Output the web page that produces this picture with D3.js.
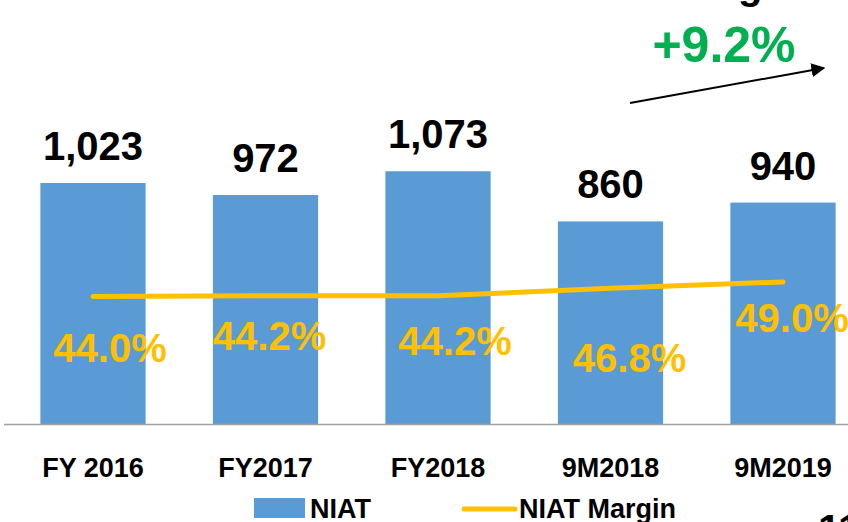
<!DOCTYPE html>
<html>
<head>
<meta charset="utf-8">
<script src="https://cdn.jsdelivr.net/npm/d3@7"></script>
<style>
  body { margin: 0; background: #fff; }
  svg { display: block; font-family: "Liberation Sans", Arial, sans-serif; }
</style>
</head>
<body>
<svg id="chart" width="848" height="522"></svg>
<script>
const periods = ['FY 2016', 'FY2017', 'FY2018', '9M2018', '9M2019'];
const niat = [1023, 972, 1073, 860, 940];
const margin = [44.0, 44.2, 44.2, 46.8, 49.0];
const growthText = '+9.2%';

// hand placed margin labels (offset from the line point), like the source slide
const marginLabelOffset = [[17, 66], [4, 54], [17, 59], [19, 84], [9, 50]];

const svg = d3.select('#chart');
const width = +svg.attr('width');
const baseY = 424;

const data = periods.map((p, i) => ({period: p, niat: niat[i], margin: margin[i]}));

const x = d3.scaleBand()
  .domain(periods)
  .range([6.75, 869.25])
  .paddingInner(0.39)
  .paddingOuter(0.195);

const y = d3.scaleLinear()
  .domain([0, 1800])
  .range([baseY, 0]);

const y2 = d3.scaleLinear()
  .domain([0, 100])
  .range([baseY, 134]);

const cx = d => x(d.period) + x.bandwidth() / 2;

// cut-off title at the very top
svg.append('text')
  .attr('x', 798)
  .attr('y', -1)
  .attr('text-anchor', 'end')
  .style('font-size', '40px')
  .style('font-weight', 'bold')
  .text('NIAT Margin');

// bars
svg.selectAll('rect.bar').data(data)
  .enter().append('rect')
    .attr('class', 'bar')
    .attr('x', d => x(d.period))
    .attr('y', d => y(d.niat))
    .attr('width', x.bandwidth())
    .attr('height', d => baseY - y(d.niat))
    .attr('fill', '#5B9BD5');

// x axis
const xAxisG = svg.append('g')
  .attr('transform', `translate(0,${baseY})`)
  .call(d3.axisBottom(x).tickSize(0).tickSizeOuter(0).tickPadding(34));

xAxisG.select('.domain')
  .attr('stroke', '#A0A0A0')
  .attr('stroke-width', 1.5)
  .attr('d', `M4,0.5H${width}`);

xAxisG.selectAll('.tick text')
  .style('font-family', '"Liberation Sans", Arial, sans-serif')
  .style('font-size', '27px')
  .style('font-weight', 'bold')
  .attr('fill', '#000');

// NIAT value labels
svg.selectAll('.val').data(data)
  .enter().append('text')
    .attr('class', 'val')
    .attr('x', cx)
    .attr('y', d => y(d.niat) - 23)
    .attr('text-anchor', 'middle')
    .style('font-size', '40px')
    .style('font-weight', 'bold')
    .text(d => d3.format(',')(d.niat));

// margin line
const line = d3.line()
  .x(cx)
  .y(d => y2(d.margin));

svg.append('path')
  .datum(data)
  .attr('d', line)
  .attr('fill', 'none')
  .attr('stroke', '#FFC000')
  .attr('stroke-width', 5)
  .attr('stroke-linecap', 'round')
  .attr('stroke-linejoin', 'round');

// margin labels
svg.selectAll('.pct').data(data)
  .enter().append('text')
    .attr('class', 'pct')
    .attr('x', (d, i) => cx(d) + marginLabelOffset[i][0])
    .attr('y', (d, i) => y2(d.margin) + marginLabelOffset[i][1])
    .attr('text-anchor', 'middle')
    .attr('fill', '#FFC000')
    .style('font-size', '40px')
    .style('font-weight', 'bold')
    .text(d => d.margin.toFixed(1) + '%');

// growth annotation
svg.append('defs').append('marker')
    .attr('id', 'arrow')
    .attr('viewBox', '0 0 10 10')
    .attr('refX', 9)
    .attr('refY', 5)
    .attr('markerWidth', 7)
    .attr('markerHeight', 7)
    .attr('markerUnits', 'strokeWidth')
    .attr('orient', 'auto')
  .append('path')
    .attr('d', 'M0,0L10,5L0,10Z')
    .attr('fill', '#000');

svg.append('line')
  .attr('x1', 630).attr('y1', 103)
  .attr('x2', 824).attr('y2', 68)
  .attr('stroke', '#000')
  .attr('stroke-width', 2)
  .attr('marker-end', 'url(#arrow)');

svg.append('text')
  .attr('x', 724)
  .attr('y', 62)
  .attr('text-anchor', 'middle')
  .attr('fill', '#00B050')
  .style('font-size', '50px')
  .style('font-weight', 'bold')
  .text(growthText);

// legend
const legend = svg.append('g');
legend.append('rect')
  .attr('x', 254).attr('y', 498)
  .attr('width', 51).attr('height', 20)
  .attr('fill', '#5B9BD5');
legend.append('text')
  .attr('x', 310).attr('y', 518)
  .style('font-size', '27px')
  .style('font-weight', 'bold')
  .text('NIAT');
legend.append('line')
  .attr('x1', 464).attr('y1', 509)
  .attr('x2', 515).attr('y2', 509)
  .attr('stroke', '#FFC000')
  .attr('stroke-width', 5)
  .attr('stroke-linecap', 'round');
legend.append('text')
  .attr('x', 519).attr('y', 518)
  .style('font-size', '27px')
  .style('font-weight', 'bold')
  .text('NIAT Margin');

// cut-off text at the bottom right corner
svg.append('text')
  .attr('x', 818)
  .attr('y', 543)
  .style('font-size', '40px')
  .style('font-weight', 'bold')
  .text('11');
</script>
</body>
</html>
